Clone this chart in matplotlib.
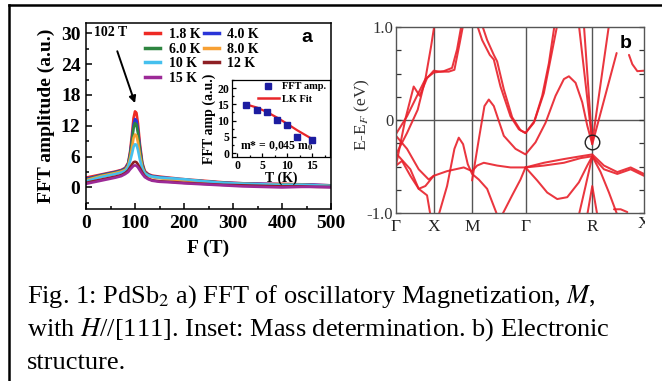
import matplotlib
matplotlib.use('Agg')
import matplotlib.pyplot as plt
from matplotlib.lines import Line2D
from matplotlib.transforms import Bbox
from matplotlib.font_manager import FontProperties
from matplotlib.ticker import MultipleLocator

plt.rcParams['mathtext.fontset'] = 'stix'

# ---------------- data: panel a (FFT spectra) ----------------
freq = [0, 15, 30, 45, 60, 72, 80, 86, 90, 94, 97, 100, 103, 106, 110, 115, 120, 127, 135,
        150, 170, 200, 240, 280, 320, 360, 400, 440, 470, 500]
amp_1p8K = [1.9, 2.2, 2.5, 2.8, 3.1, 3.4, 3.8, 4.8, 7.0, 10.5, 13.5, 14.8, 14.5, 12.5, 8.5,
            4.8, 3.2, 2.6, 2.3, 2.1, 1.9, 1.6, 1.3, 1.0, 0.8, 0.7, 0.7, 0.6, 0.5, 0.4]
amp_4p0K = [1.7, 2.0, 2.4, 2.7, 3.0, 3.3, 3.7, 4.6, 6.6, 9.6, 12.2, 13.3, 13.0, 11.3, 7.8,
            4.5, 3.0, 2.5, 2.2, 2.0, 1.8, 1.5, 1.2, 0.9, 0.8, 0.7, 0.6, 0.6, 0.5, 0.4]
amp_6p0K = [1.5, 1.9, 2.3, 2.6, 2.9, 3.2, 3.5, 4.4, 6.3, 9.1, 11.5, 12.5, 12.2, 10.6, 7.3,
            4.3, 2.9, 2.4, 2.1, 1.9, 1.7, 1.5, 1.2, 0.9, 0.7, 0.6, 0.6, 0.5, 0.4, 0.3]
amp_8p0K = [1.4, 1.8, 2.2, 2.5, 2.8, 3.1, 3.4, 4.2, 5.7, 7.8, 9.6, 10.3, 10.1, 8.8, 6.3,
            3.9, 2.8, 2.3, 2.0, 1.8, 1.6, 1.4, 1.1, 0.8, 0.7, 0.6, 0.5, 0.5, 0.4, 0.3]
amp_10K = [1.2, 1.6, 2.0, 2.3, 2.6, 2.9, 3.2, 3.9, 5.1, 6.6, 7.9, 8.4, 8.3, 7.3, 5.4,
           3.6, 2.7, 2.3, 2.1, 1.9, 1.8, 1.6, 1.2, 0.9, 0.7, 0.6, 0.5, 0.5, 0.4, 0.3]
amp_12K = [0.9, 1.2, 1.5, 1.8, 2.1, 2.4, 2.8, 3.3, 3.9, 4.5, 4.9, 5.0, 4.9, 4.5, 3.8,
           2.9, 2.2, 1.7, 1.4, 1.2, 1.1, 0.9, 0.7, 0.5, 0.4, 0.3, 0.2, 0.2, 0.1, 0.1]
amp_15K = [0.7, 1.0, 1.3, 1.6, 1.9, 2.2, 2.6, 3.0, 3.5, 3.9, 4.2, 4.3, 4.2, 3.9, 3.3,
           2.6, 2.0, 1.6, 1.3, 1.1, 1.0, 0.8, 0.6, 0.4, 0.2, 0.1, 0.0, 0.1, 0.1, 0.0]
series_labels = ['1.8 K', '4.0 K', '6.0 K', '8.0 K', '10 K', '12 K', '15 K']
series_colors = ['#ee2a24', '#2a35d8', '#2e8540', '#f7a033', '#45c0ee', '#8e1f24', '#9c2a97']
series_values = [amp_1p8K, amp_4p0K, amp_6p0K, amp_8p0K, amp_10K, amp_12K, amp_15K]

# inset (mass determination)
inset_T = [1.8, 4, 6, 8, 10, 12, 15]
inset_amp = [14.8, 13.3, 12.5, 10.3, 8.5, 5.0, 4.1]
lk_T = [1.8, 4, 6, 8, 10, 12, 15]
lk_amp = [15.0, 14.0, 12.6, 10.9, 9.0, 7.0, 4.3]

# ---------------- data: panel b (band structure) ----------------
k_ticks = [0, 1.13, 2.28, 3.88, 5.88, 7.43]
k_labels = ['Γ', 'X', 'M', 'Γ', 'R', 'X']

b1_k = [0, 0.33, 0.63, 0.88, 1.13, 1.43, 1.68, 1.83, 1.96]
b1_E = [-0.15, 0.04, 0.26, 0.44, 0.51, 0.525, 0.56, 0.76, 1.02]
b2_k = [0, 0.33, 0.65, 0.88, 1.05, 1.15]
b2_E = [-0.37, -0.14, 0.11, 0.44, 0.79, 1.02]
b3_k = [0, 0.28, 0.53, 0.71, 0.93, 1.13, 1.33, 1.58, 1.75, 1.91, 2.01]
b3_E = [-0.49, 0.01, 0.36, 0.26, 0.45, 0.53, 0.52, 0.52, 0.54, 0.83, 1.02]
b4_k = [0, 0.18, 0.43, 0.68, 0.88, 1.13, 1.53, 2.03, 2.28, 2.43, 2.63, 3.03, 3.43, 3.88,
        4.43, 5.03, 5.53, 5.88, 6.23, 6.63, 7.03, 7.43]
b4_E = [-0.49, -0.44, -0.60, -0.74, -0.71, -0.60, -0.55, -0.51, -0.55, -0.49, -0.46, -0.49,
        -0.51, -0.51, -0.46, -0.42, -0.39, -0.37, -0.49, -0.56, -0.51, -0.58]
b5_k = [3.88, 4.43, 5.03, 5.53, 5.88, 6.23, 6.63, 7.03, 7.43]
b5_E = [-0.51, -0.49, -0.46, -0.41, -0.39, -0.53, -0.58, -0.53, -0.60]
b6_k = [0.03, 0.43, 0.68, 0.93, 1.03]
b6_E = [-0.37, -0.53, -0.74, -0.81, -1.02]
b7_k = [0, 0.33, 0.68, 0.98, 1.13]
b7_E = [-0.17, -0.31, -0.53, -0.64, -0.60]
b8_k = [1.28, 1.53, 1.75, 1.88, 2.01, 2.15, 2.28, 2.48, 2.73, 3.03]
b8_E = [-1.02, -0.71, -0.31, -0.19, -0.26, -0.475, -0.58, -0.64, -0.74, -1.02]
b9_k = [2.28, 2.48, 2.65, 2.78, 2.93, 3.23, 3.58, 3.88, 4.18, 4.48, 4.78, 5.03, 5.18, 5.38,
        5.58, 5.73, 5.88]
b9_E = [-0.65, -0.21, 0.15, 0.22, 0.15, -0.17, -0.31, -0.37, -0.24, -0.03, 0.26, 0.44, 0.47,
        0.40, 0.19, -0.06, -0.26]
b10_k = [2.43, 2.58, 2.81, 2.93, 3.13, 3.43, 3.68, 3.88, 4.13, 4.38, 4.58, 4.75]
b10_E = [1.02, 0.86, 0.70, 0.65, 0.36, 0.04, -0.10, -0.14, -0.03, 0.26, 0.61, 1.02]
b11_k = [2.58, 2.73, 2.93, 3.03, 3.23, 3.48, 3.73, 3.88, 4.15, 4.43, 4.65, 4.83]
b11_E = [1.02, 0.86, 0.70, 0.63, 0.33, 0.03, -0.11, -0.14, -0.01, 0.29, 0.69, 1.02]
b12_k = [5.48, 5.88, 6.38]
b12_E = [1.02, -0.24, 1.02]
b13_k = [5.63, 5.88, 6.61]
b13_E = [1.02, -0.26, 0.72]
b14_k = [6.98, 7.08, 7.23, 7.43]
b14_E = [0.70, 0.60, 0.525, 0.53]
b15_k = [3.88, 4.23, 4.53, 4.83, 5.13, 5.48, 5.73, 5.88]
b15_E = [-0.51, -0.65, -0.78, -0.85, -0.83, -0.67, -0.49, -0.39]
b16_k = [3.18, 3.48, 3.73, 3.88]
b16_E = [-1.02, -0.81, -0.64, -0.51]
b17_k = [5.48, 5.68, 5.88, 6.13, 6.38, 6.63]
b17_E = [-1.02, -0.71, -0.39, -0.56, -0.78, -1.02]
b18_k = [5.73, 5.88, 6.03]
b18_E = [-1.02, -0.71, -1.02]
b19_k = [6.53, 6.73, 6.93]
b19_E = [-0.96, -0.96, -0.99]
bands = [(b1_k, b1_E), (b2_k, b2_E), (b3_k, b3_E), (b4_k, b4_E), (b5_k, b5_E),
         (b6_k, b6_E), (b7_k, b7_E), (b8_k, b8_E), (b9_k, b9_E), (b10_k, b10_E),
         (b11_k, b11_E), (b12_k, b12_E), (b13_k, b13_E), (b14_k, b14_E), (b15_k, b15_E),
         (b16_k, b16_E), (b17_k, b17_E), (b18_k, b18_E), (b19_k, b19_E)]
dirac_k = [5.88]
dirac_E = [-0.24]

caption_lines = ["Fig. 1: PdSb$_2$ a) FFT of oscillatory Magnetization, $M$,",
                 "with $H$//[111]. Inset: Mass determination. b) Electronic",
                 "structure."]

# ---------------- figure ----------------
W, H = 662, 381
fig = plt.figure(figsize=(W / 100, H / 100), dpi=100)


def fx(px):
    return px / W


def fy(py):
    return 1 - py / H


def box(l, t, r, b):
    return [fx(l), fy(b), fx(r) - fx(l), fy(t) - fy(b)]


SERIF = 'Liberation Serif'

# ---- panel a ----
axA = fig.add_axes(box(86, 23, 331, 209))
lines = []
for vals, c, lab in zip(series_values, series_colors, series_labels):
    ln, = axA.plot(freq, vals, color=c, lw=1.9, label=lab)
    lines.append(ln)
axA.set_xlim(0, 500)
axA.set_ylim(-4.2, 32)
axA.set_xticks([0, 100, 200, 300, 400, 500])
axA.set_yticks([0, 6, 12, 18, 24, 30])
axA.xaxis.set_minor_locator(MultipleLocator(50))
axA.yaxis.set_minor_locator(MultipleLocator(3))
axA.tick_params(which='both', direction='in', top=False, right=False, width=1.1)
axA.tick_params(which='major', length=4.5, pad=4)
axA.tick_params(which='minor', length=2.5)
for lab in axA.get_xticklabels() + axA.get_yticklabels():
    lab.set_fontfamily(SERIF)
    lab.set_fontweight('bold')
    lab.set_fontsize(14)
for s in axA.spines.values():
    s.set_linewidth(1.1)
axA.set_xlabel('F (T)', fontfamily=SERIF, fontweight='bold', fontsize=14, labelpad=6)
axA.set_ylabel('FFT amplitude (a.u.)', fontfamily=SERIF, fontweight='bold', fontsize=14,
               labelpad=4)

order = [0, 2, 4, 6, 1, 3, 5]
leg = axA.legend([lines[i] for i in order], [series_labels[i] for i in order], ncol=2,
                 loc='upper left', bbox_to_anchor=(fx(145), fy(28)),
                 bbox_transform=fig.transFigure, frameon=False,
                 prop=FontProperties(family=SERIF, weight='bold', size=10),
                 handlelength=1.1, handletextpad=0.6, columnspacing=0.25,
                 labelspacing=0.12, borderpad=0, borderaxespad=0)
for h in leg.legend_handles:
    h.set_linewidth(2.5)

axA.annotate('102 T', xy=(100, 16.4), xytext=(51, 30.1), ha='center', va='center',
             fontfamily=SERIF, fontweight='bold', fontsize=10,
             arrowprops=dict(arrowstyle='-|>', color='black', lw=1.4, mutation_scale=10,
                             shrinkA=7, shrinkB=0))
fig.text(fx(307), fy(37), 'a', fontfamily='Liberation Sans', fontweight='bold', fontsize=14,
         ha='center', va='center')

# ---- inset ----
axI = fig.add_axes(box(232, 80, 330, 157))
axI.plot(lk_T, lk_amp, color='#e8262a', lw=1.6, label='LK Fit', zorder=2)
axI.plot(inset_T, inset_amp, 's', color='#1c1ca0', ms=4, label='FFT amp.', zorder=3)
axI.set_xlim(-1, 18.5)
axI.set_ylim(-1.2, 22.5)
axI.set_xticks([0, 5, 10, 15])
axI.set_yticks([0, 5, 10, 15, 20])
axI.xaxis.set_minor_locator(MultipleLocator(2.5))
axI.yaxis.set_minor_locator(MultipleLocator(2.5))
axI.tick_params(which='both', direction='in', top=False, right=False, width=0.9, pad=2)
axI.tick_params(which='major', length=3)
axI.tick_params(which='minor', length=1.5)
for lab in axI.get_xticklabels() + axI.get_yticklabels():
    lab.set_fontfamily(SERIF)
    lab.set_fontweight('bold')
    lab.set_fontsize(8.5)
for s in axI.spines.values():
    s.set_linewidth(0.9)
axI.set_xlabel('T (K)', fontfamily=SERIF, fontweight='bold', fontsize=10, labelpad=0)
axI.set_ylabel('FFT amp (a.u.)', fontfamily=SERIF, fontweight='bold', fontsize=10, labelpad=1)
hI = [Line2D([], [], marker='s', color='#1c1ca0', ls='none', ms=4),
      Line2D([], [], color='#e8262a', lw=1.8)]
axI.legend(hI, ['FFT amp.', 'LK Fit'], loc='upper left', bbox_to_anchor=(fx(258), fy(82)),
           bbox_transform=fig.transFigure, frameon=False,
           prop=FontProperties(family=SERIF, weight='bold', size=7.5),
           handlelength=2.0, handletextpad=0.3, labelspacing=0.3, borderpad=0,
           borderaxespad=0)
axI.text(fx(240), fy(146), r'm* = 0,045 m$_\mathbf{0}$', transform=fig.transFigure,
         fontfamily=SERIF, fontweight='bold', fontsize=8.5, ha='left', va='center')

# ---- panel b ----
axB = fig.add_axes(box(396, 27, 644, 213))
for kk, ee in bands:
    axB.plot(kk, ee, color='#e8202a', lw=1.45, alpha=0.9, solid_capstyle='round')
axB.plot(dirac_k, dirac_E, 'o', mfc='none', mec='#222222', mew=1.0, ms=10.5)
for kt in k_ticks[1:-1]:
    axB.axvline(kt, color='#555555', lw=1.0, zorder=0)
axB.axhline(0, color='#555555', lw=1.0, zorder=0)
axB.set_xlim(k_ticks[0], k_ticks[-1])
axB.set_ylim(-1, 1)
axB.set_yticks([-1, -0.75, -0.5, -0.25, 0, 0.25, 0.5, 0.75, 1])
axB.set_yticklabels(['-1.0', '', '', '', '0', '', '', '', '1.0'])
axB.set_xticks(k_ticks[:-1])
axB.set_xticklabels(k_labels[:-1])
axB.tick_params(axis='x', length=0, pad=4)
axB.tick_params(axis='y', direction='in', length=3.5, width=0.9, right=True, pad=2,
                colors='#333333')
for lab in axB.get_xticklabels():
    lab.set_fontfamily(SERIF)
    lab.set_fontsize(12.5)
    lab.set_color('#222222')
for lab in axB.get_yticklabels():
    lab.set_fontfamily(SERIF)
    lab.set_fontsize(12)
for s in axB.spines.values():
    s.set_color('#555555')
    s.set_linewidth(1.0)
axB.set_ylabel('E-E$_F$ (eV)', fontfamily=SERIF, fontsize=12.5, color='#333333')
axB.yaxis.set_label_coords((372 - 396) / 248, (213 - 115) / 186)
tX = fig.text(fx(644), fy(224), k_labels[-1], fontfamily=SERIF, fontsize=12.5,
              color='#222222', ha='center', va='center')
tX.set_clip_on(True)
tX.set_clip_box(Bbox([[0, 0], [645, H]]))
fig.text(fx(626), fy(43), 'b', fontfamily='Liberation Sans', fontweight='bold', fontsize=14,
         ha='center', va='center')

# ---- caption ----
for i, txt in enumerate(caption_lines):
    fig.text(fx(27), fy(297 + 33 * i), txt, fontfamily=SERIF, fontsize=19,
             ha='left', va='center')

# ---- frame lines ----
fig.add_artist(Line2D([fx(9), 1], [fy(5), fy(5)], color='black', lw=1.8,
                      transform=fig.transFigure))
fig.add_artist(Line2D([fx(9), fx(9)], [fy(5), 0], color='black', lw=1.8,
                      transform=fig.transFigure))

fig.savefig('out.png', dpi=100)
